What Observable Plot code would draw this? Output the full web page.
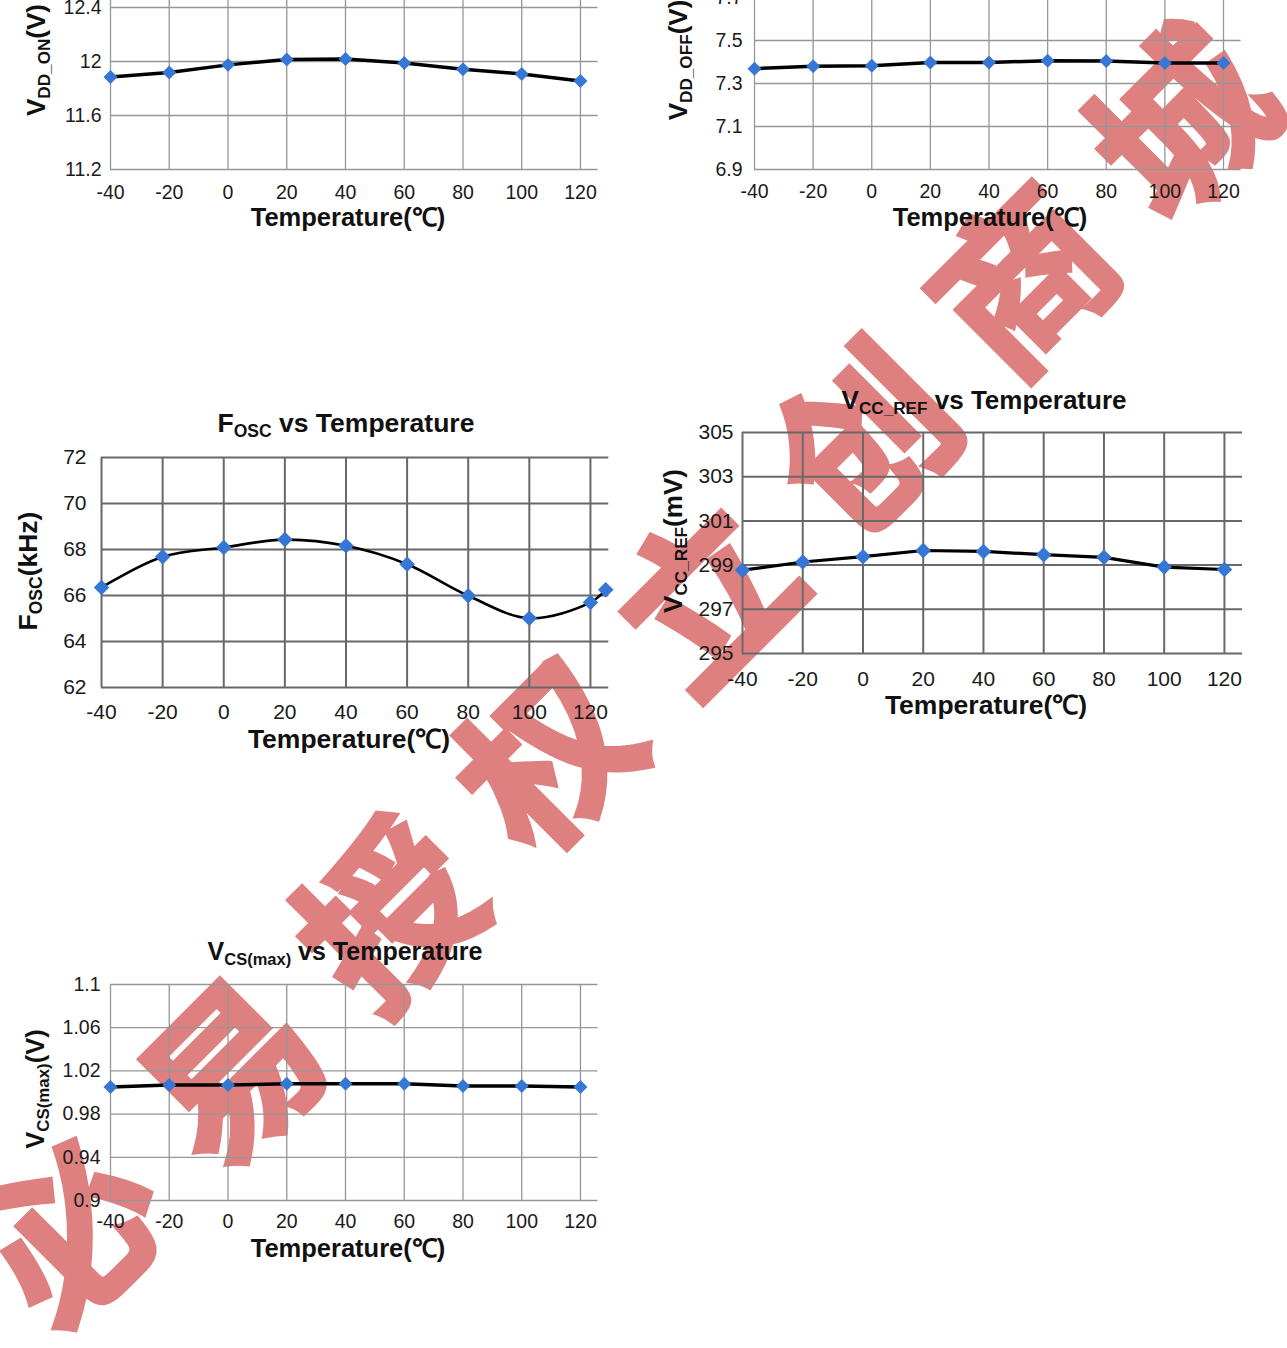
<!DOCTYPE html>
<html>
<head>
<meta charset="utf-8">
<script src="https://cdn.jsdelivr.net/npm/d3@7"></script>
<script src="https://cdn.jsdelivr.net/npm/@observablehq/plot@0.6"></script>
<style>
  html, body { margin:0; padding:0; background:#fff; }
  #root { position:relative; width:1287px; height:1348px; overflow:hidden; background:#fff; }
  .lbl { position:absolute; font-family:"Liberation Sans", Arial, sans-serif; font-weight:bold; white-space:nowrap;
         transform:translate(-50%,-50%); line-height:1; color:#111; }
  .rot { transform:translate(-50%,-50%) rotate(-90deg); }
  .sub { font-size:0.66em; vertical-align:-0.3em; }
  .wm { position:absolute; font-family:"Noto Sans CJK SC", sans-serif; font-weight:700; font-size:172px;
        letter-spacing:52px; padding-left:52px; line-height:1; color:#de8080; white-space:nowrap;
        -webkit-text-stroke:5px #de8080;
        transform:translate(-50%,-50%) rotate(-45deg); pointer-events:none; }
  svg { position:absolute; }
</style>
</head>
<body>
<div id="root"></div>
<script>
// ---------- data ----------
const temps = [-40, -20, 0, 20, 40, 60, 80, 100, 120];
const tempsFosc = [-40, -20, 0, 20, 40, 60, 80, 100, 120, 125];
const vddOn  = [11.885, 11.918, 11.975, 12.015, 12.018, 11.988, 11.943, 11.908, 11.855];
const vddOff = [7.369, 7.380, 7.383, 7.398, 7.398, 7.406, 7.405, 7.395, 7.395];
const fosc   = [66.35, 67.68, 68.09, 68.43, 68.16, 67.36, 65.99, 65.01, 65.70, 66.25];
const vccRef = [298.77, 299.14, 299.38, 299.66, 299.62, 299.47, 299.35, 298.91, 298.80];
const vcsMax = [1.005, 1.007, 1.007, 1.008, 1.008, 1.008, 1.006, 1.006, 1.005];

const xTicks = [-40, -20, 0, 20, 40, 60, 80, 100, 120];
const yTicksVddOn  = [11.2, 11.6, 12, 12.4, 12.8];
const yTicksVddOff = [6.9, 7.1, 7.3, 7.5, 7.7, 7.9];
const yTicksFosc   = [62, 64, 66, 68, 70, 72];
const yTicksVccRef = [295, 297, 299, 301, 303, 305];
const yTicksVcs    = [0.9, 0.94, 0.98, 1.02, 1.06, 1.1];

const xLabel = "Temperature(℃)";
const watermark = "必易授权立创商城";

// ---------- helpers ----------
const root = document.getElementById("root");

// watermark first, so that the charts paint over it
const wm = document.createElement("div");
wm.className = "wm";
wm.style.left = "620px";
wm.style.top = "669px";
wm.textContent = watermark;
root.appendChild(wm);

function panel(o) {
  const ml = 100, mr = 10, mt = 10, mb = 50;
  const w = ml + (o.right - o.left) + mr;
  const h = mt + (o.bottom - o.top) + mb;
  const data = o.xs.map((t, i) => ({t, v: o.ys[i]}));
  const svg = Plot.plot({
    width: w, height: h,
    marginLeft: ml, marginRight: mr, marginTop: mt, marginBottom: mb,
    style: {fontFamily: '"Liberation Sans", Arial, sans-serif', fontSize: o.fs + "px", color: "#1a1a1a", background: "transparent", overflow: "visible"},
    x: {domain: [-40, 126]},
    y: {domain: [o.yTicks[0], o.yTicks[o.yTicks.length - 1]]},
    marks: [
      Plot.gridX(xTicks, {stroke: o.grid, strokeOpacity: 1, strokeWidth: o.gw}),
      Plot.gridY(o.yTicks, {stroke: o.grid, strokeOpacity: 1, strokeWidth: o.gw}),
      Plot.line(data, {x: "t", y: "v", stroke: "#000", strokeWidth: o.lw, curve: o.curve || "linear"}),
      Plot.dot(data, {x: "t", y: "v", symbol: "diamond2", r: o.r, fill: "#3676d4", stroke: "none"}),
      Plot.axisX(xTicks, {tickSize: 0, tickPadding: o.xPad, tickFormat: d => String(d), label: null, fontSize: o.fs}),
      Plot.axisY(o.yTicks, {tickSize: 0, tickPadding: o.yPad, tickFormat: d => String(d), label: null, fontSize: o.fs})
    ]
  });
  svg.style.left = (o.left - ml) + "px";
  svg.style.top = (o.top - mt) + "px";
  root.appendChild(svg);
}

function label(html, x, y, size, rot) {
  const d = document.createElement("div");
  d.className = "lbl" + (rot ? " rot" : "");
  d.style.left = x + "px";
  d.style.top = y + "px";
  d.style.fontSize = size + "px";
  d.innerHTML = html;
  root.appendChild(d);
}

// ---------- panels ----------
const light = {grid: "#969696", gw: 1.3, lw: 3.5, r: 6.3, fs: 19.5};
const dark = {grid: "#686868", gw: 2, fs: 21};

panel({...light, xs: temps, ys: vddOn, yTicks: yTicksVddOn, left: 110, right: 597.6, top: -47, bottom: 169, xPad: 16, yPad: 9});
panel({...light, xs: temps, ys: vddOff, yTicks: yTicksVddOff, left: 754, right: 1240.6, top: -46, bottom: 169, xPad: 15, yPad: 12});
panel({...dark, lw: 2.6, r: 7, curve: "catmull-rom", xs: tempsFosc, ys: fosc, yTicks: yTicksFosc, left: 101, right: 608.3, top: 457, bottom: 687, xPad: 17, yPad: 15});
panel({...dark, lw: 3.2, r: 7, xs: temps, ys: vccRef, yTicks: yTicksVccRef, left: 742, right: 1242, top: 432, bottom: 653, xPad: 18, yPad: 9});
panel({...light, xs: temps, ys: vcsMax, yTicks: yTicksVcs, left: 110, right: 597.6, top: 984, bottom: 1200, xPad: 14, yPad: 10});

// ---------- titles & axis titles ----------
label(xLabel, 348, 218, 25.5);
label(xLabel, 990, 218, 25.5);
label(xLabel, 349, 739, 26.5);
label(xLabel, 986, 705, 26.5);
label(xLabel, 348, 1249, 25.5);

label('F<span class="sub">OSC</span> vs Temperature', 346, 425, 26.5);
label('V<span class="sub">CC_REF</span> vs Temperature', 984, 402, 26);
label('V<span class="sub">CS(max)</span> vs Temperature', 345, 953, 25);

label('V<span class="sub">DD_ON</span>(V)', 38, 60, 26, true);
label('V<span class="sub">DD_OFF</span>(V)', 680, 60, 26, true);
label('F<span class="sub">OSC</span>(kHz)', 30, 571, 26.5, true);
label('V<span class="sub">CC_REF</span>(mV)', 675, 541, 26, true);
label('V<span class="sub">CS(max)</span>(V)', 38, 1089, 25.5, true);
</script>
</body>
</html>
